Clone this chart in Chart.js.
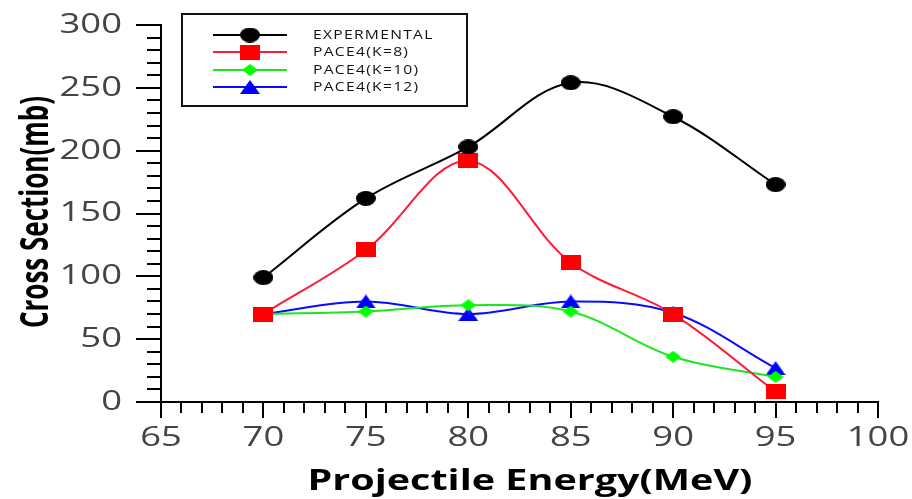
<!DOCTYPE html>
<html>
<head>
<meta charset="utf-8">
<script src="https://cdn.jsdelivr.net/npm/chart.js@4.4.1/dist/chart.umd.min.js"></script>
<style>
  html, body { margin: 0; padding: 0; background: #fff; }
</style>
</head>
<body>
<canvas id="crossSectionChart" width="912" height="499"></canvas>
<script>
// Projectile energy (MeV)
var energies = [70, 75, 80, 85, 90, 95];

// Cross sections (mb)
var experimental = [99, 162, 203, 254, 227, 173];
var pace4K8 = [70, 121, 192, 111, 70, 8];
var pace4K10 = [70, 72, 77, 72, 36, 20];
var pace4K12 = [70, 80, 70, 80, 71, 27];

var seriesNames = ['EXPERMENTAL', 'PACE4(K=8)', 'PACE4(K=10)', 'PACE4(K=12)'];
var xTitle = 'Projectile Energy(MeV)';
var yTitle = 'Cross Section(mb)';

// axis ranges and steps
var xRange = [65, 100];
var yRange = [0, 300];
var xStep = 5, xMinorStep = 1;
var yStep = 50, yMinorStep = 10;

// the original picture is stretched sideways, text and markers too
var stretch = 1.3;

function toPoints(values) {
    return energies.map(function (e, i) { return {x: e, y: values[i]}; });
}

// Small canvases used as (wide) point markers
function makeMarker(shape, w, h, color) {
    var c = document.createElement('canvas');
    c.width = w;
    c.height = h;
    var g = c.getContext('2d');
    g.fillStyle = color;
    g.beginPath();
    if (shape === 'circle') {
        g.ellipse(w / 2, h / 2, w / 2, h / 2, 0, 0, Math.PI * 2);
    } else if (shape === 'rect') {
        g.rect(0, 0, w, h);
    } else if (shape === 'diamond') {
        g.moveTo(w / 2, 0);
        g.lineTo(w, h / 2);
        g.lineTo(w / 2, h);
        g.lineTo(0, h / 2);
        g.closePath();
    } else if (shape === 'triangle') {
        g.moveTo(w / 2, 0);
        g.lineTo(w, h);
        g.lineTo(0, h);
        g.closePath();
    }
    g.fill();
    return c;
}

// A function to make one line dataset
function makeSeries(label, values, lineColor, marker) {
    return {
        label: label,
        data: toPoints(values),
        borderColor: lineColor,
        backgroundColor: lineColor,
        pointStyle: marker,
        pointRadius: 10,
        borderWidth: 2,
        tension: 0.35,
        fill: false
    };
}

function drawWideText(ctx, text, x, y, font, color, align, rotated, sx) {
    ctx.save();
    ctx.translate(x, y);
    ctx.scale(sx, 1);
    if (rotated) ctx.rotate(-Math.PI / 2);
    ctx.font = font;
    ctx.fillStyle = color;
    ctx.textAlign = align;
    ctx.textBaseline = 'middle';
    ctx.fillText(text, 0, 0);
    ctx.restore();
}

// Draws major and minor tick marks like the original plot
var tickPlugin = {
    id: 'tickMarks',
    afterDraw: function (chart) {
        var ctx = chart.ctx;
        var xs = chart.scales.x, ys = chart.scales.y;
        var axisY = ys.getPixelForValue(yRange[0]);
        var axisX = xs.getPixelForValue(xRange[0]);
        ctx.save();
        ctx.strokeStyle = '#000';
        ctx.lineWidth = 2;
        ctx.beginPath();
        for (var v = xRange[0]; v <= xRange[1]; v += xMinorStep) {
            var px = Math.round(xs.getPixelForValue(v));
            var len = (v % xStep === 0) ? 16 : 11;
            ctx.moveTo(px, axisY);
            ctx.lineTo(px, axisY + len);
        }
        for (var w = yRange[0]; w <= yRange[1]; w += yMinorStep) {
            var py = Math.round(ys.getPixelForValue(w));
            var l2 = (w % yStep === 0) ? 25 : 14;
            ctx.moveTo(axisX, py);
            ctx.lineTo(axisX - l2, py);
        }
        ctx.stroke();
        ctx.restore();
    }
};

// Tick labels and axis titles, drawn wide like the source image
var labelPlugin = {
    id: 'wideLabels',
    afterDraw: function (chart) {
        var ctx = chart.ctx;
        var xs = chart.scales.x, ys = chart.scales.y;
        var tickFont = '28px "Open Sans"';
        xs.ticks.forEach(function (t) {
            drawWideText(ctx, String(t.value), xs.getPixelForValue(t.value), 438, tickFont, '#444', 'center', false, stretch);
        });
        ys.ticks.forEach(function (t) {
            drawWideText(ctx, String(t.value), 122, ys.getPixelForValue(t.value), tickFont, '#444', 'right', false, stretch);
        });

        // x title stretched to the width it has in the picture
        ctx.save();
        ctx.font = 'bold 28px "Open Sans"';
        var xw = ctx.measureText(xTitle).width;
        ctx.restore();
        drawWideText(ctx, xTitle, 530, 482, 'bold 28px "Open Sans"', '#000', 'center', false, 445 / xw);

        // y title: length kept, letters made thicker
        ctx.save();
        ctx.font = 'bold 100px "Open Sans"';
        var yw = ctx.measureText(yTitle).width;
        ctx.restore();
        var ySize = Math.round(100 * 233 / yw);
        drawWideText(ctx, yTitle, 37, 212, 'bold ' + ySize + 'px "Open Sans"', '#000', 'center', true, 1.5);
    }
};

// Legend inside a framed box at the top left
var boxLegendPlugin = {
    id: 'boxLegend',
    afterDraw: function (chart) {
        var ctx = chart.ctx;
        ctx.save();
        ctx.fillStyle = '#fff';
        ctx.fillRect(182, 14, 285, 92);
        ctx.strokeStyle = '#111';
        ctx.lineWidth = 2;
        ctx.strokeRect(182, 14, 285, 92);
        var rows = [35, 52, 70, 87];
        chart.data.datasets.forEach(function (ds, i) {
            var y = rows[i];
            ctx.strokeStyle = ds.borderColor;
            ctx.lineWidth = 2;
            ctx.beginPath();
            ctx.moveTo(213, y);
            ctx.lineTo(287, y);
            ctx.stroke();
            Chart.helpers.drawPoint(ctx, {
                pointStyle: ds.pointStyle,
                radius: ds.pointRadius,
                rotation: 0,
                borderWidth: 0
            }, 250, y);
            ctx.save();
            ctx.translate(313, y + 1);
            ctx.scale(stretch, 1);
            ctx.font = '12px "Open Sans"';
            ctx.letterSpacing = '1px';
            ctx.fillStyle = '#111';
            ctx.textBaseline = 'middle';
            ctx.textAlign = 'left';
            ctx.fillText(ds.label, 0, 0);
            ctx.restore();
        });
        ctx.restore();
    }
};

var chart = new Chart(document.getElementById('crossSectionChart').getContext('2d'), {
    type: 'line',
    data: {
        datasets: [
            makeSeries(seriesNames[0], experimental, '#000000', makeMarker('circle', 20, 15, '#000000')),
            makeSeries(seriesNames[1], pace4K8, '#ff1a3a', makeMarker('rect', 20, 15, '#ff0000')),
            makeSeries(seriesNames[2], pace4K10, '#1ee61e', makeMarker('diamond', 16, 12, '#00ff00')),
            makeSeries(seriesNames[3], pace4K12, '#0a0aff', makeMarker('triangle', 20, 14, '#0000ff'))
        ]
    },
    options: {
        responsive: false,
        animation: false,
        layout: {padding: {top: 25, right: 34, left: 0, bottom: 0}},
        plugins: {
            legend: {display: false},
            tooltip: {enabled: false}
        },
        scales: {
            x: {
                type: 'linear',
                min: xRange[0],
                max: xRange[1],
                ticks: {stepSize: xStep, display: false},
                grid: {drawOnChartArea: false, drawTicks: false},
                border: {color: '#000', width: 2},
                afterFit: function (scale) { scale.height = 97; }
            },
            y: {
                min: yRange[0],
                max: yRange[1],
                ticks: {stepSize: yStep, display: false},
                grid: {drawOnChartArea: false, drawTicks: false},
                border: {color: '#000', width: 2},
                afterFit: function (scale) { scale.width = 161; }
            }
        }
    },
    plugins: [tickPlugin, labelPlugin, boxLegendPlugin]
});
</script>
</body>
</html>
